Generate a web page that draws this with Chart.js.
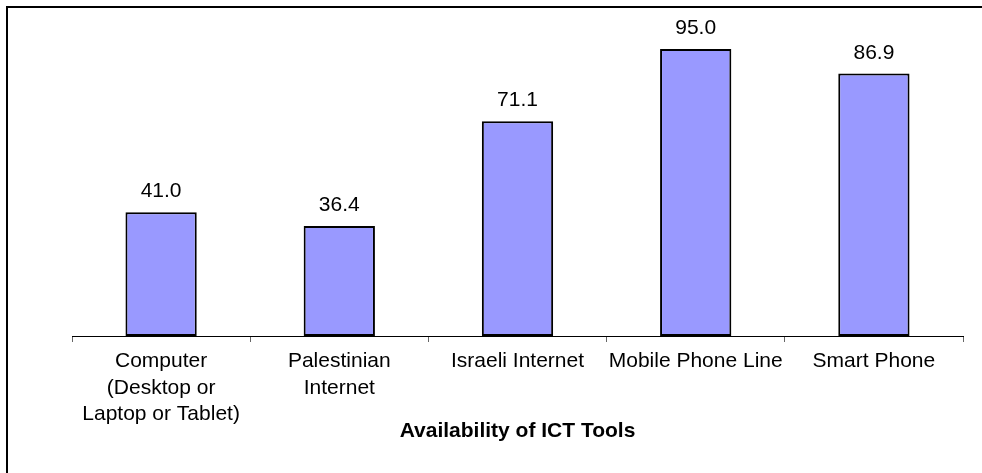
<!DOCTYPE html>
<html>
<head>
<meta charset="utf-8">
<script src="https://cdn.jsdelivr.net/npm/chart.js@4.4.1/dist/chart.umd.min.js"></script>
<style>
  body { margin: 0; background: #fff; }
  #wrap { position: relative; width: 982px; height: 473px; }
  #frame { position: absolute; left: 6px; top: 6px; right: 0; bottom: 0;
           border-top: 2px solid #000; border-left: 2px solid #000; pointer-events: none; }
  canvas { position: absolute; left: 0; top: 0; }
</style>
</head>
<body>
<div id="wrap">
  <canvas id="myChart" width="982" height="473"></canvas>
  <div id="frame"></div>
</div>
<script>
// data
const categories = [
    ['Computer', '(Desktop or', 'Laptop or Tablet)'],
    ['Palestinian', 'Internet'],
    'Israeli Internet',
    'Mobile Phone Line',
    'Smart Phone'
];
const availability = [41.0, 36.4, 71.1, 95.0, 86.9];
const axisTitle = 'Availability of ICT Tools';

const fontFamily = '"Liberation Sans", Arial, sans-serif';

// draws the value above each bar
const valueLabels = {
    id: 'valueLabels',
    afterDatasetsDraw(chart) {
        const ctx = chart.ctx;
        ctx.save();
        ctx.font = '21px ' + fontFamily;
        ctx.fillStyle = '#000';
        ctx.textAlign = 'center';
        ctx.textBaseline = 'alphabetic';
        chart.getDatasetMeta(0).data.forEach((bar, i) => {
            ctx.fillText(availability[i].toFixed(1), bar.x, bar.y - 15);
        });
        ctx.restore();
    }
};

const config = {
    type: 'bar',
    data: {
        labels: categories,
        datasets: [{
            data: availability,
            backgroundColor: '#9999FF',
            borderColor: '#000',
            borderWidth: 2,
            borderSkipped: false,
            barPercentage: 0.4,
            categoryPercentage: 1
        }]
    },
    options: {
        responsive: false,
        animation: false,
        devicePixelRatio: 1,
        layout: { padding: { left: 72, right: 19, top: 34, bottom: 29 } },
        plugins: { legend: { display: false }, tooltip: { enabled: false } },
        scales: {
            y: { display: false, min: 0, max: 100 },
            x: {
                grid: { drawOnChartArea: false, tickLength: 6, color: '#666', lineWidth: 1 },
                border: { display: true, color: '#000', width: 1 },
                ticks: { color: '#000', padding: 6, maxRotation: 0, autoSkip: false,
                         font: { family: fontFamily, size: 21, lineHeight: 1.27 } },
                title: { display: true, text: axisTitle, color: '#000', padding: 0,
                         font: { family: fontFamily, size: 21, weight: 'bold' } },
                afterFit(scale) { scale.height = 108; }
            }
        }
    },
    plugins: [valueLabels]
};

let myChart = new Chart(document.getElementById('myChart'), config);
</script>
</body>
</html>
